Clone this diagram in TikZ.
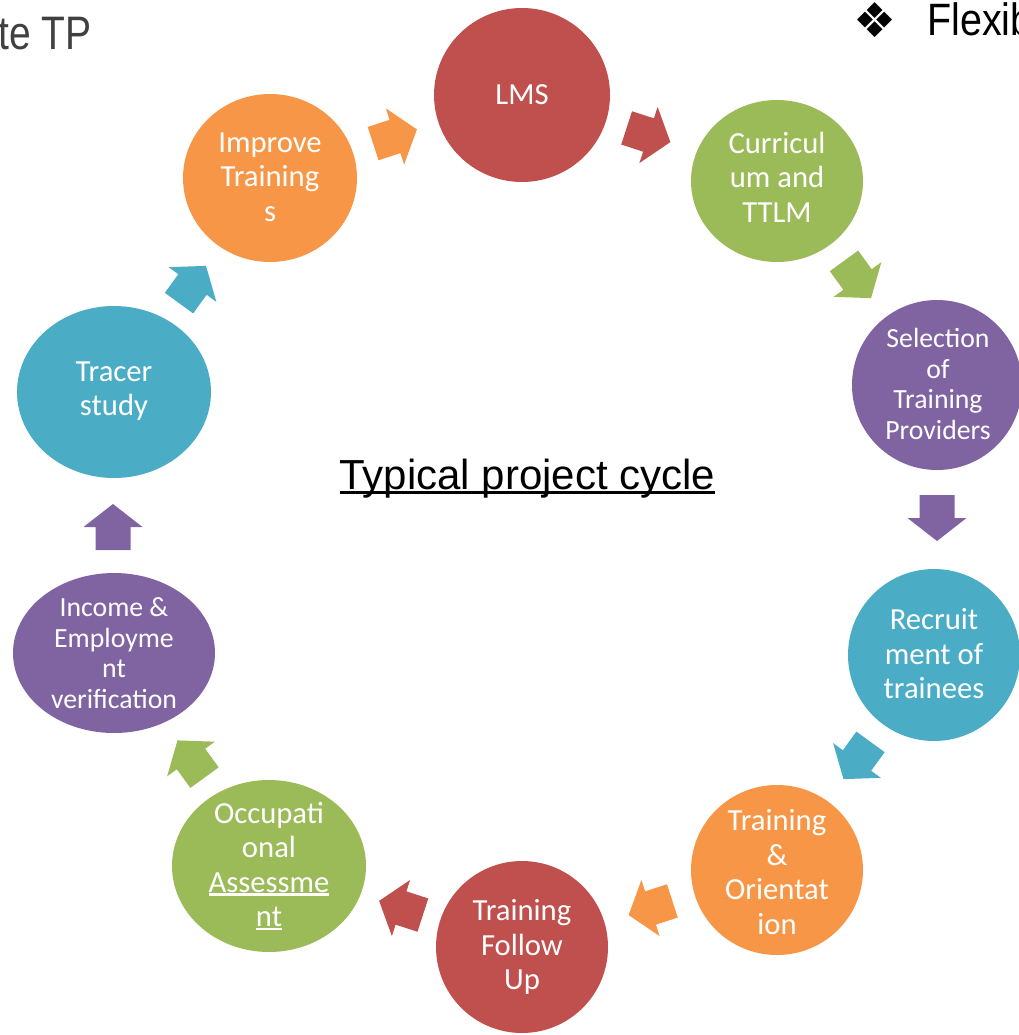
\documentclass[tikz,border=0pt]{standalone}
\usepackage{fontspec}
\setmainfont{Carlito}
\newfontfamily\libsans{Liberation Sans}
\newfontfamily\dejavu{DejaVu Sans}
\newcommand\myul[1]{\setbox0\hbox{#1}\rlap{\rule[-0.11em]{\wd0}{0.07em}}\box0}
\definecolor{cred}{HTML}{C0504D}
\definecolor{cgreen}{HTML}{9BBB59}
\definecolor{cpurple}{HTML}{8064A2}
\definecolor{cteal}{HTML}{4BACC6}
\definecolor{corange}{HTML}{F79646}
\definecolor{cgray}{HTML}{404040}
\begin{document}
\begin{tikzpicture}[x=0.75pt,y=-0.75pt,
  bubtxt/.style={text=white, align=center, inner sep=0pt, font=\fontsize{23}{25.9}\selectfont},
  smalltxt/.style={text=white, align=center, inner sep=0pt, font=\fontsize{20.8}{22.9}\selectfont},
  blockarrow/.pic={\fill[#1] (-23,-17.5) -- (0,-17.5) -- (0,-29.5) -- (23,0) -- (0,29.5) -- (0,17.5) -- (-23,17.5) -- cycle;}]
\useasboundingbox (0,0) rectangle (1019,1035);

% bubbles
\fill[cred]    (522,95)  ellipse [x radius=88, y radius=87];
\fill[cgreen]  (777,181) ellipse [x radius=86, y radius=81];
\fill[cpurple] (937,385) ellipse [x radius=85, y radius=85];
\fill[cteal]   (934,655) ellipse [x radius=86, y radius=86];
\fill[corange] (777,870) ellipse [x radius=86, y radius=85];
\fill[cred]    (522,947) ellipse [x radius=86, y radius=86];
\fill[cgreen]  (269,866) ellipse [x radius=97, y radius=86];
\fill[cpurple] (114,653) ellipse [x radius=101, y radius=80];
\fill[cteal]   (114,392) ellipse [x radius=97, y radius=86];
\fill[corange] (270,178) ellipse [x radius=87, y radius=84];

% texts
\node[bubtxt] (lms) at (522,95) {LMS};
\node[bubtxt] (curr) at (777,177) {Curricul\\um and\\TTLM};
\node[smalltxt] (sel) at (938,384) {Selection\\of\\Training\\Providers};
\node[bubtxt] (rec) at (934,654) {Recruit\\ment of\\trainees};
\node[bubtxt] (train) at (777,872) {Training\\\&\\Orientat\\ion};
\node[bubtxt] (follow) at (522,947) {Training\\Follow\\Up};
\node[bubtxt] (occ) at (269,866) {Occupati\\onal\\\myul{Assessme}\\\myul{nt}};
\node[smalltxt] (inc) at (114,653) {Income \&\\Employme\\nt\\verification};
\node[bubtxt] (tracer) at (114,391) {Tracer\\study};
\node[bubtxt] (impr) at (270,177) {Improve\\Training\\s};

% arrows
\pic[rotate=18]   at (395,136.5) {blockarrow=corange};
\pic[rotate=-18]  at (648.5,135) {blockarrow=cred};
\pic[rotate=-54]  at (857.5,279.5) {blockarrow=cgreen};
\pic[rotate=-90]  at (937,518) {blockarrow=cpurple};
\pic[rotate=-126] at (857,760.5) {blockarrow=cteal};
\pic[rotate=-162] at (650.5,908) {blockarrow=corange};
\pic[rotate=-198] at (401,908) {blockarrow=cred};
\pic[rotate=-234] at (191,759) {blockarrow=cgreen};
\pic[rotate=-270] at (113,527) {blockarrow=cpurple};
\pic[rotate=-306] at (192.5,284.5) {blockarrow=cteal};

% title and fragments
\node[anchor=base, inner sep=0pt, font=\libsans\fontsize{31.5}{36}\selectfont] (title) at (527.5,489) {\myul{Typical project cycle}};
\node[anchor=base west, inner sep=0pt, text=cgray, font=\libsans\fontsize{35.25}{40}\selectfont] (tetp) at (-2,49) {\scalebox{0.83}[1]{te TP}};
\node[anchor=base west, inner sep=0pt, font=\libsans\fontsize{34}{40}\selectfont] (flex) at (927,36) {\scalebox{0.87}[1]{Flexib}};
\node[inner sep=0pt, font=\dejavu\fontsize{36}{40}\selectfont] (bullet) at (875,20) {❖};
\end{tikzpicture}
\end{document}
